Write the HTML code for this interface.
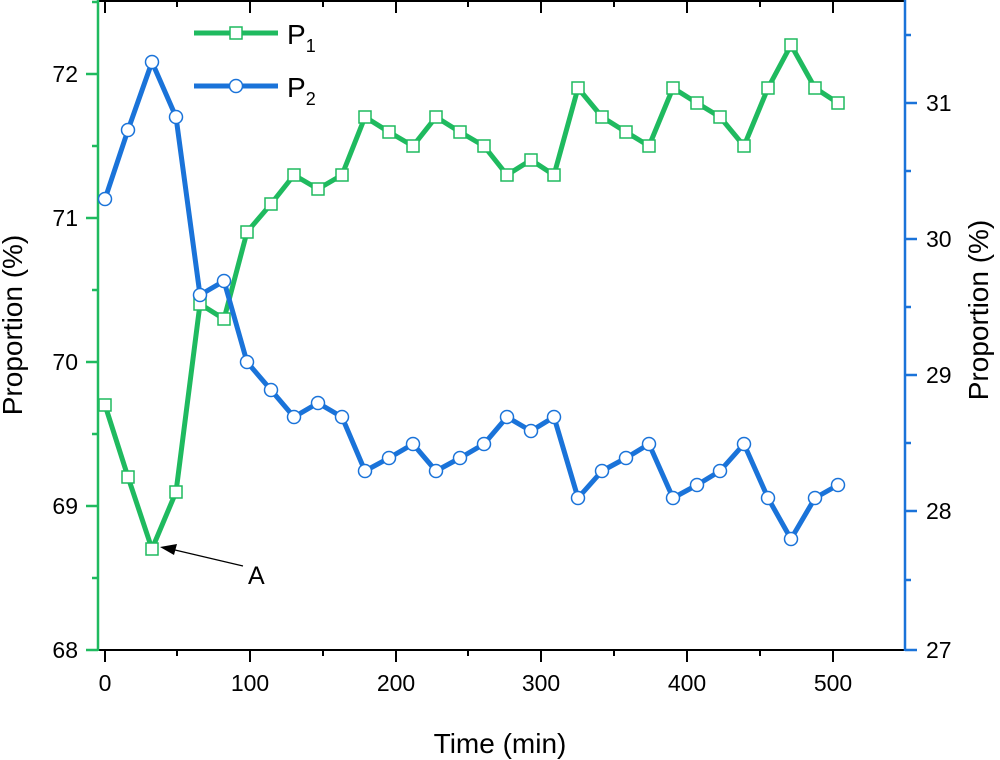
<!DOCTYPE html>
<html><head><meta charset="utf-8"><style>
html,body{margin:0;padding:0;background:#fff;}
svg{display:block;font-family:"Liberation Sans",sans-serif;}
</style></head><body>
<svg width="1000" height="760" viewBox="0 0 1000 760" xmlns="http://www.w3.org/2000/svg">
<!-- top axis -->
<line x1="98" y1="1" x2="905" y2="1" stroke="#000" stroke-width="2"/>
<g stroke="#000" stroke-width="2">
<line x1="105" y1="1" x2="105" y2="13"/><line x1="250" y1="1" x2="250" y2="13"/><line x1="396" y1="1" x2="396" y2="13"/><line x1="541" y1="1" x2="541" y2="13"/><line x1="687" y1="1" x2="687" y2="13"/><line x1="833" y1="1" x2="833" y2="13"/>
<line x1="177" y1="1" x2="177" y2="7"/><line x1="323" y1="1" x2="323" y2="7"/><line x1="468" y1="1" x2="468" y2="7"/><line x1="614" y1="1" x2="614" y2="7"/><line x1="760" y1="1" x2="760" y2="7"/>
</g>
<!-- bottom axis -->
<line x1="98" y1="650" x2="905" y2="650" stroke="#000" stroke-width="2"/>
<g stroke="#000" stroke-width="2">
<line x1="105" y1="650" x2="105" y2="662"/><line x1="250" y1="650" x2="250" y2="662"/><line x1="396" y1="650" x2="396" y2="662"/><line x1="541" y1="650" x2="541" y2="662"/><line x1="687" y1="650" x2="687" y2="662"/><line x1="833" y1="650" x2="833" y2="662"/>
<line x1="177" y1="650" x2="177" y2="656"/><line x1="323" y1="650" x2="323" y2="656"/><line x1="468" y1="650" x2="468" y2="656"/><line x1="614" y1="650" x2="614" y2="656"/><line x1="760" y1="650" x2="760" y2="656"/>
</g>
<g font-size="23" text-anchor="middle" fill="#000">
<text x="105" y="691">0</text><text x="250" y="691">100</text><text x="396" y="691">200</text><text x="541" y="691">300</text><text x="687" y="691">400</text><text x="833" y="691">500</text>
</g>
<text x="500" y="753" font-size="28" text-anchor="middle">Time (min)</text>
<!-- left axis -->
<line x1="98" y1="0" x2="98" y2="651" stroke="#1fba5f" stroke-width="2.5"/>
<g stroke="#1fba5f" stroke-width="2.5">
<line x1="86" y1="74" x2="98" y2="74"/><line x1="86" y1="218" x2="98" y2="218"/><line x1="86" y1="362" x2="98" y2="362"/><line x1="86" y1="506" x2="98" y2="506"/><line x1="86" y1="650" x2="98" y2="650"/>
<line x1="92" y1="146" x2="98" y2="146"/><line x1="92" y1="290" x2="98" y2="290"/><line x1="92" y1="434" x2="98" y2="434"/><line x1="92" y1="578" x2="98" y2="578"/><line x1="92" y1="2" x2="98" y2="2"/>
</g>
<g font-size="23" text-anchor="end">
<text x="78" y="82">72</text><text x="78" y="226">71</text><text x="78" y="370">70</text><text x="78" y="514">69</text><text x="78" y="658">68</text>
</g>
<text transform="translate(22,325) rotate(-90)" font-size="28" text-anchor="middle">Proportion (%)</text>
<!-- right axis -->
<line x1="905" y1="0" x2="905" y2="651" stroke="#1a73d9" stroke-width="2.5"/>
<g stroke="#1a73d9" stroke-width="2.5">
<line x1="905" y1="103" x2="917" y2="103"/><line x1="905" y1="239" x2="917" y2="239"/><line x1="905" y1="375" x2="917" y2="375"/><line x1="905" y1="511" x2="917" y2="511"/><line x1="905" y1="650" x2="917" y2="650"/>
<line x1="905" y1="35" x2="911" y2="35"/><line x1="905" y1="171" x2="911" y2="171"/><line x1="905" y1="307" x2="911" y2="307"/><line x1="905" y1="443" x2="911" y2="443"/><line x1="905" y1="580" x2="911" y2="580"/>
</g>
<g font-size="23" text-anchor="start">
<text x="926" y="111">31</text><text x="926" y="247">30</text><text x="926" y="383">29</text><text x="926" y="519">28</text><text x="926" y="658">27</text>
</g>
<text transform="translate(988,310) rotate(-90)" font-size="28" text-anchor="middle">Proportion (%)</text>
<!-- P1 -->
<polyline fill="none" stroke="#1fba5f" stroke-width="5" stroke-linejoin="round" points="105,405 128,477 152,549 176,492 200,304 224,319 247,232 271,204 294,175 318,189 342,175 365,117 389,132 413,146 436,117 460,132 484,146 507,175 531,160 554,175 578,88 602,117 626,132 649,146 673,88 697,103 720,117 744,146 768,88 791,45 815,88 838,103"/>
<g fill="#fff" stroke="#1fba5f" stroke-width="1.5">
<rect x="99" y="399" width="12" height="12"/><rect x="122" y="471" width="12" height="12"/><rect x="146" y="543" width="12" height="12"/><rect x="170" y="486" width="12" height="12"/><rect x="194" y="298" width="12" height="12"/><rect x="218" y="313" width="12" height="12"/><rect x="241" y="226" width="12" height="12"/><rect x="265" y="198" width="12" height="12"/><rect x="288" y="169" width="12" height="12"/><rect x="312" y="183" width="12" height="12"/><rect x="336" y="169" width="12" height="12"/><rect x="359" y="111" width="12" height="12"/><rect x="383" y="126" width="12" height="12"/><rect x="407" y="140" width="12" height="12"/><rect x="430" y="111" width="12" height="12"/><rect x="454" y="126" width="12" height="12"/><rect x="478" y="140" width="12" height="12"/><rect x="501" y="169" width="12" height="12"/><rect x="525" y="154" width="12" height="12"/><rect x="548" y="169" width="12" height="12"/><rect x="572" y="82" width="12" height="12"/><rect x="596" y="111" width="12" height="12"/><rect x="620" y="126" width="12" height="12"/><rect x="643" y="140" width="12" height="12"/><rect x="667" y="82" width="12" height="12"/><rect x="691" y="97" width="12" height="12"/><rect x="714" y="111" width="12" height="12"/><rect x="738" y="140" width="12" height="12"/><rect x="762" y="82" width="12" height="12"/><rect x="785" y="39" width="12" height="12"/><rect x="809" y="82" width="12" height="12"/><rect x="832" y="97" width="12" height="12"/>
</g>
<!-- P2 -->
<polyline fill="none" stroke="#1a73d9" stroke-width="5" stroke-linejoin="round" points="105,199 128,130 152,62 176,117 200,295 224,281 247,362 271,390 294,417 318,403 342,417 365,471 389,458 413,444 436,471 460,458 484,444 507,417 531,431 554,417 578,498 602,471 626,458 649,444 673,498 697,485 720,471 744,444 768,498 791,539 815,498 838,485"/>
<g fill="#fff" stroke="#1a73d9" stroke-width="1.5">
<circle cx="105" cy="199" r="6.5"/><circle cx="128" cy="130" r="6.5"/><circle cx="152" cy="62" r="6.5"/><circle cx="176" cy="117" r="6.5"/><circle cx="200" cy="295" r="6.5"/><circle cx="224" cy="281" r="6.5"/><circle cx="247" cy="362" r="6.5"/><circle cx="271" cy="390" r="6.5"/><circle cx="294" cy="417" r="6.5"/><circle cx="318" cy="403" r="6.5"/><circle cx="342" cy="417" r="6.5"/><circle cx="365" cy="471" r="6.5"/><circle cx="389" cy="458" r="6.5"/><circle cx="413" cy="444" r="6.5"/><circle cx="436" cy="471" r="6.5"/><circle cx="460" cy="458" r="6.5"/><circle cx="484" cy="444" r="6.5"/><circle cx="507" cy="417" r="6.5"/><circle cx="531" cy="431" r="6.5"/><circle cx="554" cy="417" r="6.5"/><circle cx="578" cy="498" r="6.5"/><circle cx="602" cy="471" r="6.5"/><circle cx="626" cy="458" r="6.5"/><circle cx="649" cy="444" r="6.5"/><circle cx="673" cy="498" r="6.5"/><circle cx="697" cy="485" r="6.5"/><circle cx="720" cy="471" r="6.5"/><circle cx="744" cy="444" r="6.5"/><circle cx="768" cy="498" r="6.5"/><circle cx="791" cy="539" r="6.5"/><circle cx="815" cy="498" r="6.5"/><circle cx="838" cy="485" r="6.5"/>
</g>
<!-- annotation -->
<line x1="243" y1="566" x2="175" y2="550" stroke="#000" stroke-width="1.2"/>
<polygon points="160,547 177,544 174,555" fill="#000"/>
<text x="248" y="584" font-size="25">A</text>
<!-- legend -->
<line x1="194" y1="33" x2="278" y2="33" stroke="#1fba5f" stroke-width="5"/>
<rect x="230" y="27" width="12" height="12" fill="#fff" stroke="#1fba5f" stroke-width="1.5"/>
<text x="287" y="44" font-size="28">P<tspan font-size="18" dy="8">1</tspan></text>
<line x1="194" y1="86" x2="278" y2="86" stroke="#1a73d9" stroke-width="5"/>
<circle cx="236" cy="86" r="6.5" fill="#fff" stroke="#1a73d9" stroke-width="1.5"/>
<text x="287" y="97" font-size="28">P<tspan font-size="18" dy="8">2</tspan></text>
</svg>
</body></html>
